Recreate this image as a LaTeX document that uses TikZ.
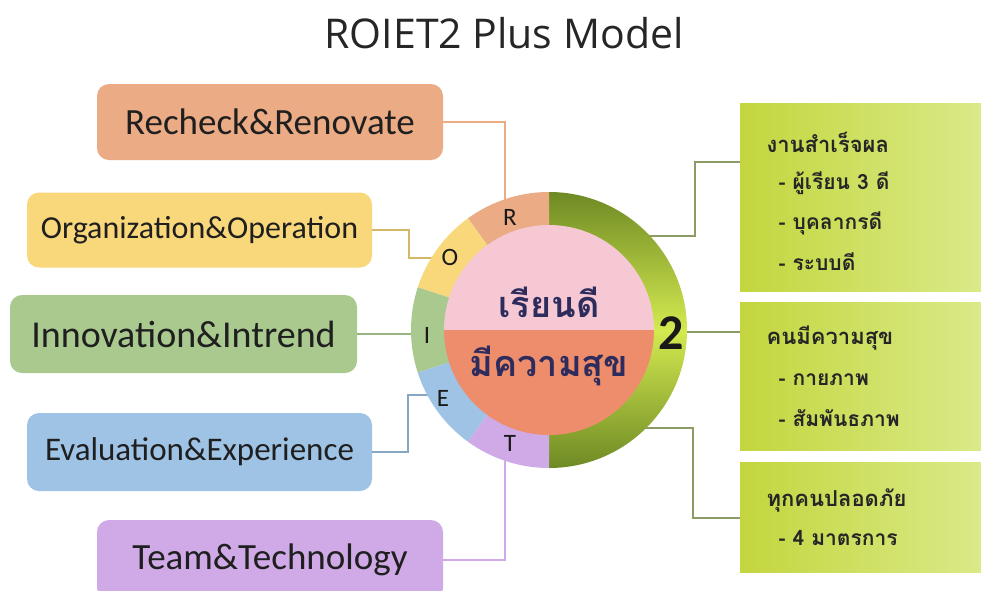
\documentclass[tikz,border=0pt]{standalone}
\usepackage{fontspec}
\setmainfont{Carlito}
\newfontfamily\titlefont{Open Sans}
\newfontfamily\thaifont[Script=Thai]{Loma}
\definecolor{rc}{HTML}{EBAB85}
\definecolor{oc}{HTML}{F9D77B}
\definecolor{ic}{HTML}{A9C98F}
\definecolor{ec}{HTML}{9FC3E5}
\definecolor{tc}{HTML}{CFAAE6}
\definecolor{pinkc}{HTML}{F5C8D3}
\definecolor{salc}{HTML}{EE8D6C}
\definecolor{gdark}{HTML}{6E8A24}
\definecolor{gbright}{HTML}{D4EA50}
\definecolor{bl}{HTML}{C3D63E}
\definecolor{br}{HTML}{DDEB8E}
\definecolor{navy}{HTML}{2D2C5C}
\definecolor{lineg}{HTML}{8C9A66}
\begin{document}
\begin{tikzpicture}[x=1pt,y=-1pt,
  lbox/.style={rounded corners=12pt, inner sep=0pt, text=black!88},
  rbx/.style={inner sep=0pt, left color=bl, right color=br},
  conn/.style={line width=1.6pt},
  rconn/.style={line width=2.2pt, draw=lineg},
  ringlbl/.style={font=\fontsize{25}{25}\selectfont, text=black!90},
  thaitxt/.style={font=\thaifont\bfseries\fontsize{36}{38}\selectfont, text=navy},
  rhead/.style={anchor=west, font=\thaifont\bfseries\fontsize{22}{24}\selectfont, text=black!85},
  ritem/.style={anchor=west, font=\thaifont\bfseries\fontsize{21}{23}\selectfont, text=black!85},
]
\useasboundingbox (0,0) rectangle (981,590);
\fill[white] (0,0) rectangle (981,590);

% title
\node[font=\titlefont\fontsize{41}{44}\selectfont, text=black!85] (title) at (504,33) {ROIET2 Plus Model};

% left boxes
\node[lbox, fill=rc, minimum width=346pt, minimum height=76pt, font=\fontsize{37}{40}\selectfont] (rbox) at (270,122) {Recheck\&Renovate};
\node[lbox, fill=oc, minimum width=345pt, minimum height=75pt, font=\fontsize{32}{36}\selectfont] (obox) at (199.5,230) {Organization\&Operation};
\node[lbox, fill=ic, minimum width=347pt, minimum height=78pt, font=\fontsize{38}{40}\selectfont] (ibox) at (183.5,334) {Innovation\&Intrend};
\node[lbox, fill=ec, minimum width=345pt, minimum height=78pt, font=\fontsize{33}{36}\selectfont] (ebox) at (199.5,452) {Evaluation\&Experience};
\node[lbox, fill=tc, minimum width=346pt, minimum height=80pt, font=\fontsize{37}{40}\selectfont] (tbox) at (270,560) {Team\&Technology};

% right boxes
\node[rbx, minimum width=262pt, minimum height=188pt] (box1) at (871,197) {};
\node[rbx, minimum width=262pt, minimum height=148pt] (box2) at (871,376) {};
\node[rbx, minimum width=262pt, minimum height=110pt] (box3) at (871,517) {};

% ring anchor points
\coordinate (C) at (549,330);
\coordinate (aR) at (505,202);
\coordinate (aO) at (434,258);
\coordinate (aI) at (414,334);
\coordinate (aE) at (431,395);
\coordinate (aT) at (505,458);
\coordinate (a1) at (648,236);
\coordinate (a2) at (684,332);
\coordinate (a3) at (642,428);
\coordinate (k1) at (695,162);
\coordinate (k3) at (693,518);

% connectors
\draw[conn, draw=rc] (rbox.east) -| (aR);
\draw[conn, draw=oc!85!black] (obox.east) -- ++(37,0) |- (aO);
\draw[conn, draw=ic!90!black] (ibox.east) -- (aI);
\draw[conn, draw=ec!85!black] (ebox.east) -- ++(36,0) |- (aE);
\draw[conn, draw=tc] (tbox.east) -| (aT);
\draw[rconn] (a1) -| (k1) -- (k1 -| box1.west);
\draw[rconn] (a2) -- (a2 -| box2.west);
\draw[rconn] (a3) -| (k3) -- (k3 -| box3.west);

% ring right half
\begin{scope}
\clip (549,180) rectangle (700,480);
\shade[top color=gdark, bottom color=gdark, middle color=gbright] (C) circle[radius=138];
\end{scope}
% ring left segments
\fill[rc] (C) -- ++(234:138) arc[start angle=234,end angle=270,radius=138] -- cycle;
\fill[oc] (C) -- ++(198:138) arc[start angle=198,end angle=234,radius=138] -- cycle;
\fill[ic] (C) -- ++(162:138) arc[start angle=162,end angle=198,radius=138] -- cycle;
\fill[ec] (C) -- ++(126:138) arc[start angle=126,end angle=162,radius=138] -- cycle;
\fill[tc] (C) -- ++(90:138) arc[start angle=90,end angle=126,radius=138] -- cycle;
% inner circle
\fill[pinkc] (C) ++(180:105) arc[start angle=180,end angle=360,radius=105] -- cycle;
\fill[salc] (C) ++(0:105) arc[start angle=0,end angle=180,radius=105] -- cycle;

% ring labels
\node[ringlbl] (lR) at (510,217) {R};
\node[ringlbl] (lO) at (450,257) {O};
\node[ringlbl] (lI) at (427,335) {I};
\node[ringlbl] (lE) at (443,398) {E};
\node[ringlbl] (lT) at (510,443) {T};
\node[font=\bfseries\fontsize{50}{50}\selectfont, text=black!90] (two) at (671,333) {2};

% centre texts
\node[thaitxt] (t1) at (549,302) {เรียนดี};
\node[thaitxt] (t2) at (549,366) {มีความสุข};

% right texts
\node[rhead] (h1) at (763,142) {งานสำเร็จผล};
\node[ritem] (h1a) at (775,183) {- ผู้เรียน 3 ดี};
\node[ritem] (h1b) at (775,223) {- บุคลากรดี};
\node[ritem] (h1c) at (775,262) {- ระบบดี};
\node[rhead] (h2) at (763,338) {คนมีความสุข};
\node[ritem] (h2a) at (775,380) {- กายภาพ};
\node[ritem] (h2b) at (775,418) {- สัมพันธภาพ};
\node[rhead] (h3) at (763,500) {ทุกคนปลอดภัย};
\node[ritem] (h3a) at (775,538) {- 4 มาตรการ};
\end{tikzpicture}
\end{document}
